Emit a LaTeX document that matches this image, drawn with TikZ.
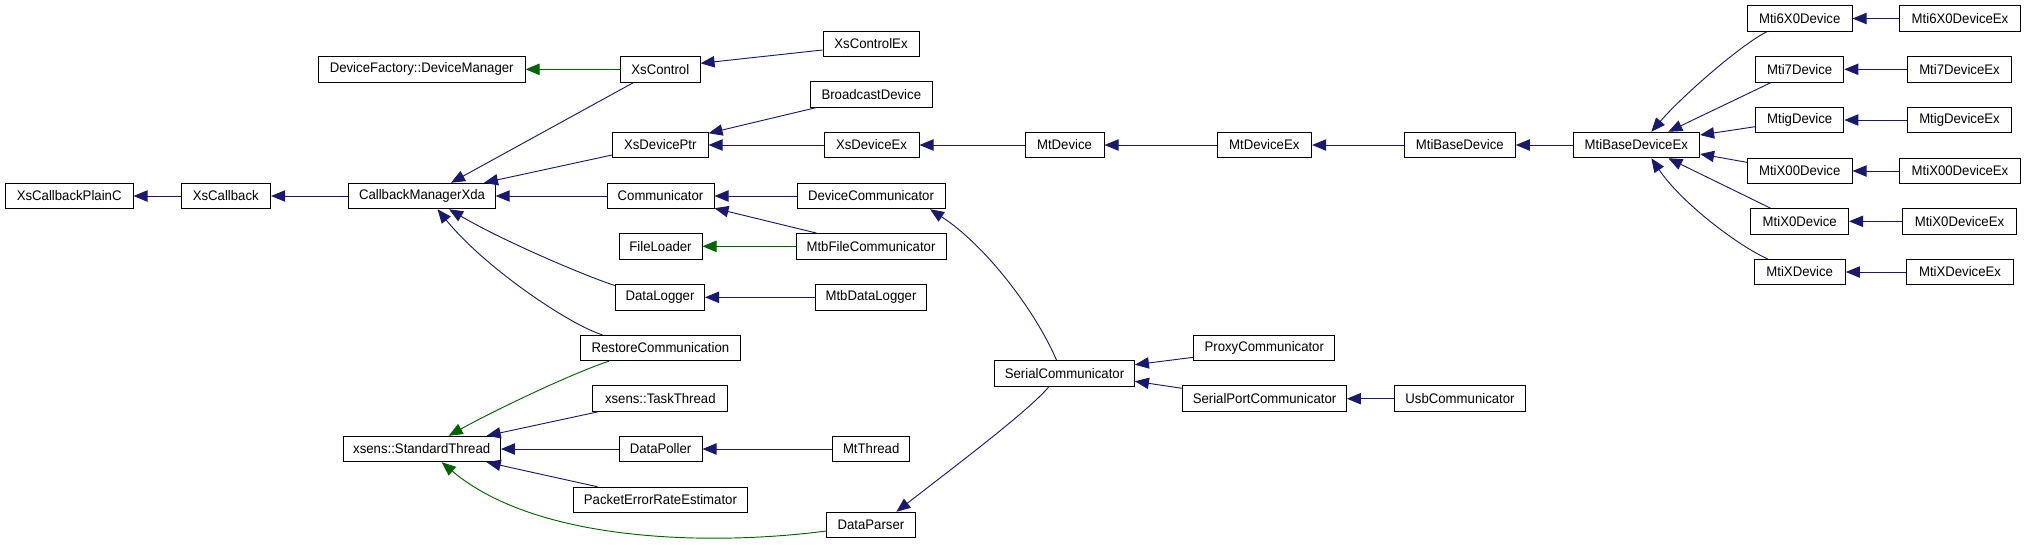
\documentclass[tikz,border=0pt]{standalone}
\usepackage{fontspec}
\setmainfont{Liberation Sans}[FakeStretch=0.95]
\usetikzlibrary{arrows.meta,calc}
\definecolor{edgeblue}{HTML}{191970}
\definecolor{edgegreen}{HTML}{006400}
\begin{document}
\begin{tikzpicture}[x=0.75pt,y=-0.75pt,
  box/.style={draw=black,line width=0.75pt,fill=white,inner sep=0pt,minimum height=19.1pt,font=\fontsize{10.4}{12}\selectfont},
  bx/.style={box,minimum width=#1*0.75pt},
  pub/.style={draw=edgeblue,line width=0.7pt,-{Triangle[length=10.5pt,width=8.5pt,fill=edgeblue]}},
  prot/.style={draw=edgegreen,line width=0.7pt,-{Triangle[length=10.5pt,width=8.5pt,fill=edgegreen]}},
]
\useasboundingbox (0,0) rectangle (2025,544);
% nodes
\node[bx=127.6] (cbplain) at (69.2,196) {XsCallbackPlainC};
\node[bx=89.5] (xscb) at (225.8,196) {XsCallback};
\node[bx=146.3] (cbm) at (422,196) {CallbackManagerXda};
\node[bx=206.7] (devmgr) at (421.7,69.3) {DeviceFactory::DeviceManager};
\node[bx=79.5] (xsctl) at (660.3,69.3) {XsControl};
\node[bx=96] (xsctlex) at (871,44) {XsControlEx};
\node[bx=122.6] (bcast) at (871.3,94.3) {BroadcastDevice};
\node[bx=95.5] (xsdp) at (660.3,145) {XsDevicePtr};
\node[bx=95] (xsdex) at (871.5,145) {XsDeviceEx};
\node[bx=79] (mtdev) at (1064.5,145) {MtDevice};
\node[bx=94.6] (mtdex) at (1264.3,145) {MtDeviceEx};
\node[bx=111] (mtibd) at (1459.8,145) {MtiBaseDevice};
\node[bx=126.6] (mtibdex) at (1636.3,145) {MtiBaseDeviceEx};
\node[bx=107] (comm) at (660.5,196) {Communicator};
\node[bx=148] (devcomm) at (871,196) {DeviceCommunicator};
\node[bx=83] (fload) at (660.5,246.3) {FileLoader};
\node[bx=150] (mtbfc) at (871,246.3) {MtbFileCommunicator};
\node[bx=89] (dlog) at (660,297.3) {DataLogger};
\node[bx=110.7] (mtbdl) at (871,297.3) {MtbDataLogger};
\node[bx=159.2] (restore) at (660.4,348) {RestoreCommunication};
\node[bx=134.7] (task) at (660.3,398.7) {xsens::TaskThread};
\node[bx=157.4] (stdth) at (421.7,449) {xsens::StandardThread};
\node[bx=83] (dpoll) at (660.5,449) {DataPoller};
\node[bx=77.2] (mtthr) at (871.2,449) {MtThread};
\node[bx=174.8] (perr) at (660.4,500) {PacketErrorRateEstimator};
\node[bx=88.2] (dparser) at (870.9,525) {DataParser};
\node[bx=139.8] (sercomm) at (1064.5,373.3) {SerialCommunicator};
\node[bx=141] (proxy) at (1264.3,348) {ProxyCommunicator};
\node[bx=163.8] (serport) at (1264.5,398.7) {SerialPortCommunicator};
\node[bx=131] (usb) at (1460,398.7) {UsbCommunicator};
\node[bx=104.7] (m6) at (1799.7,18.5) {Mti6X0Device};
\node[bx=120.3] (m6ex) at (1960,18.5) {Mti6X0DeviceEx};
\node[bx=88.3] (m7) at (1799.7,69.3) {Mti7Device};
\node[bx=104.1] (m7ex) at (1959.5,69.3) {Mti7DeviceEx};
\node[bx=88.3] (mg) at (1799.7,120) {MtigDevice};
\node[bx=104.1] (mgex) at (1959.5,120) {MtigDeviceEx};
\node[bx=104.7] (mx00) at (1799.7,171) {MtiX00Device};
\node[bx=120.3] (mx00ex) at (1960,171) {MtiX00DeviceEx};
\node[bx=97.7] (mx0) at (1799.7,221.3) {MtiX0Device};
\node[bx=113.7] (mx0ex) at (1959.5,221.3) {MtiX0DeviceEx};
\node[bx=91.3] (mx) at (1799.7,272) {MtiXDevice};
\node[bx=106.8] (mxex) at (1960,272) {MtiXDeviceEx};
% edges
\draw[pub] (xscb.west) -- (cbplain.east);
\draw[pub] (cbm.west) -- (xscb.east);
\draw[pub] ($(xsctl.south west)+(13.5,0)$) -- ($(cbm.north)+(29,0)$);
\draw[prot] (xsctl.west) -- (devmgr.east);
\draw[pub] ($(xsctlex.west)+(0,6)$) -- ($(xsctl.east)+(0,-6)$);
\draw[pub] ($(xsdp.west)+(0,10)$) -- ($(cbm.north)+(62,0)$);
\draw[pub] ($(bcast.south west)+(7,0)$) -- ($(xsdp.north east)+(0,1.5)$);
\draw[pub] (xsdex.west) -- (xsdp.east);
\draw[pub] (mtdev.west) -- (xsdex.east);
\draw[pub] (mtdex.west) -- (mtdev.east);
\draw[pub] (mtibd.west) -- (mtdex.east);
\draw[pub] (mtibdex.west) -- (mtibd.east);
\draw[pub] ($(m6.south west)+(20,0)$) .. controls (1742,44) and (1683,95) .. ($(mtibdex.north)+(15,0)$);
\draw[pub] ($(m7.south west)+(16,0)$) -- ($(mtibdex.north)+(32,0)$);
\draw[pub] ($(mg.west)+(0,6.7)$) -- ($(mtibdex.east)+(0,-10)$);
\draw[pub] ($(mx00.west)+(0,-8.7)$) -- ($(mtibdex.east)+(0,9)$);
\draw[pub] ($(mx0.north west)+(20,0)$) -- ($(mtibdex.south)+(32,0)$);
\draw[pub] ($(mx.north west)+(14,0)$) .. controls (1742,248) and (1683,205) .. ($(mtibdex.south)+(15,0)$);
\draw[pub] (m6ex.west) -- (m6.east);
\draw[pub] (m7ex.west) -- (m7.east);
\draw[pub] (mgex.west) -- (mg.east);
\draw[pub] (mx00ex.west) -- (mx00.east);
\draw[pub] (mx0ex.west) -- (mx0.east);
\draw[pub] (mxex.west) -- (mx.east);
\draw[pub] (comm.west) -- (cbm.east);
\draw[pub] (devcomm.west) -- (comm.east);
\draw[pub] ($(mtbfc.north west)+(21,0)$) -- ($(comm.south east)+(0,-1)$);
\draw[prot] (mtbfc.west) -- (fload.east);
\draw[pub] ($(dlog.north west)+(0,1.5)$) .. controls (588,277) and (505,242) .. ($(cbm.south)+(27,0)$);
\draw[pub] ($(restore.north west)+(22,0)$) .. controls (570,325) and (485,268) .. ($(cbm.south)+(15.5,0)$);
\draw[pub] (mtbdl.west) -- (dlog.east);
\draw[pub] ($(sercomm.north)+(-8,0)$) .. controls (1035,310) and (985,245) .. ($(devcomm.south)+(59,0)$);
\draw[pub] ($(proxy.west)+(0,9.3)$) -- ($(sercomm.east)+(0,-8.6)$);
\draw[pub] ($(serport.west)+(0,-10.4)$) -- ($(sercomm.east)+(0,8)$);
\draw[pub] (usb.west) -- (serport.east);
\draw[prot] ($(restore.south west)+(28.6,0)$) .. controls (575,372) and (495,410) .. ($(stdth.north)+(27,0)$);
\draw[pub] ($(task.south west)+(5,0)$) -- ($(stdth.north)+(65,0)$);
\draw[pub] (dpoll.west) -- (stdth.east);
\draw[pub] ($(perr.north west)+(25,0)$) -- ($(stdth.south)+(65,0)$);
\draw[prot] ($(dparser.west)+(0,6)$) .. controls (720,545) and (540,545) .. ($(stdth.south)+(20,0)$);
\draw[pub] (mtthr.west) -- (dpoll.east);
\draw[pub] ($(sercomm.south)+(-15.5,0)$) .. controls (1030,410) and (950,470) .. ($(dparser.north)+(25.5,0)$);
\end{tikzpicture}
\end{document}
